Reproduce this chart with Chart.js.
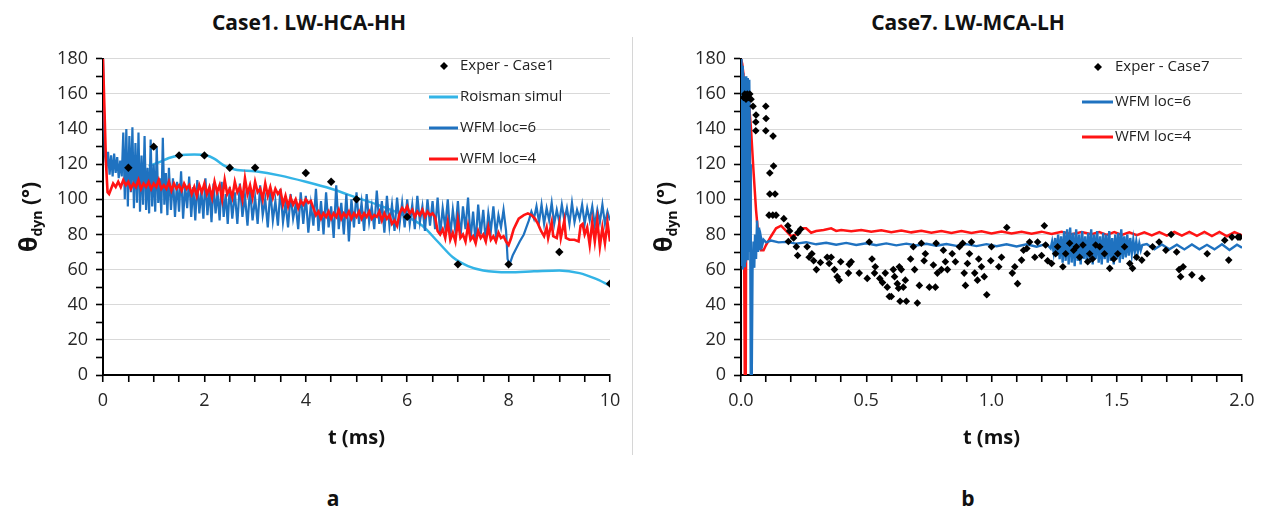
<!DOCTYPE html>
<html>
<head>
<meta charset="utf-8">
<script src="https://cdn.jsdelivr.net/npm/chart.js@4.4.0/dist/chart.umd.min.js"></script>
<style>
  body { margin:0; background:#fff; width:1265px; height:514px; position:relative; overflow:hidden; font-family:"Open Sans", sans-serif; }
  .ttl { position:absolute; top:8px; line-height:28px; font-weight:bold; font-size:21px; color:#111; transform:translateX(-50%); white-space:nowrap; }
  .lbl { position:absolute; top:484px; line-height:28px; font-weight:bold; font-size:21px; color:#111; transform:translateX(-50%); }
  #sep { position:absolute; left:632px; top:37px; width:1px; height:418px; background:#d6d6d6; }
  canvas { position:absolute; top:40px; }
</style>
</head>
<body>
<div class="ttl" style="left:309px">Case1. LW-HCA-HH</div>
<div class="ttl" style="left:968px">Case7. LW-MCA-LH</div>
<div id="sep"></div>
<canvas id="chartA" width="630" height="410" style="left:0px"></canvas>
<canvas id="chartB" width="630" height="410" style="left:635px"></canvas>
<div class="lbl" style="left:333px">a</div>
<div class="lbl" style="left:968px">b</div>
<script>
// ---- panel a : Case1 ----
const exp1 = [[0.5,118],[1,130],[1.5,125],[2,125],[2.5,118],[3,118],[4,115],[4.5,110],[5,100],[6,90],[7,63],[8,63],[9,70],[10,52]];

const roisman1 = [[0.9,119],[1.1,121],[1.3,123.5],[1.5,125],[1.8,125.5],[2.05,125],[2.2,123],[2.4,119],[2.6,117],[3.0,116],[3.5,113.5],[4.0,110],[4.5,106],[5.0,101],[5.5,96],[6.0,90],[6.3,85],[6.6,76],[6.9,67],[7.2,62],[7.5,59.5],[8.0,58.5],[8.5,59],[9.0,59.5],[9.4,58],[9.7,55],[10,51]];

const wfm6_1 = [[0,180],[0.02,150],[0.04,125],[0.07,118],[0.1,127],[0.13,114],[0.16,125],[0.19,113],[0.22,126],[0.25,115],[0.28,124],[0.31,112],[0.34,122],[0.37,113],
  [0.4,138],[0.43,100],[0.46,140],[0.49,96],[0.52,136],[0.55,104],[0.58,141],[0.61,95],[0.64,132],[0.67,98],[0.7,138],[0.73,93],[0.76,125],[0.79,97],[0.82,136],[0.85,94],[0.88,118],[0.91,92],[0.94,134],[0.97,96],[1.0,120],[1.03,93],[1.06,130],[1.09,98],[1.12,112],[1.15,92],[1.18,135],[1.21,97],[1.24,115],[1.27,91],
  [1.3,118],[1.34,94],[1.38,112],[1.42,90],[1.46,110],[1.5,93],[1.54,116],[1.58,89],[1.62,108],[1.66,95],[1.7,113],[1.74,90],[1.78,107],[1.82,88],[1.86,111],[1.9,92],[1.94,105],[1.98,89],[2.02,112],[2.06,91],[2.1,106],[2.14,87],[2.18,109],[2.22,92],[2.26,104],[2.3,88],[2.34,110],[2.38,90],[2.42,103],[2.46,86],
  [2.5,107],[2.55,89],[2.6,104],[2.65,86],[2.7,109],[2.75,90],[2.8,102],[2.85,85],[2.9,106],[2.95,88],[3.0,101],[3.05,86],[3.1,108],[3.15,91],[3.2,100],[3.25,84],[3.3,105],[3.35,88],[3.4,99],[3.45,85],[3.5,106],[3.55,87],[3.6,98],[3.65,84],[3.7,103],[3.75,89],[3.8,97],[3.85,83],[3.9,104],[3.95,86],
  [4.0,102],[4.05,81],[4.1,97],[4.15,85],[4.2,106],[4.25,82],[4.3,99],[4.35,80],[4.4,104],[4.45,84],[4.5,96],[4.55,78],[4.6,108],[4.65,83],[4.7,98],[4.75,80],[4.8,103],[4.85,76],[4.9,100],[4.95,84],
  [5.0,104],[5.05,86],[5.1,98],[5.15,82],[5.2,103],[5.25,87],[5.3,96],[5.35,83],[5.4,105],[5.45,86],[5.5,99],[5.55,81],[5.6,102],[5.65,85],[5.7,97],[5.75,82],[5.8,101],[5.85,86],[5.9,98],[5.95,84],[6.0,100],[6.05,86],[6.1,97],[6.15,83],[6.2,102],[6.25,87],[6.3,96],[6.35,82],[6.4,100],[6.45,85],
  [6.5,99],[6.55,83],[6.6,101],[6.65,80],[6.7,95],[6.75,84],[6.8,100],[6.85,79],[6.9,94],[6.95,82],[7.0,99],[7.05,78],[7.1,96],[7.15,83],[7.2,101],[7.25,77],[7.3,93],[7.35,75],[7.4,97],[7.45,80],[7.5,94],[7.55,76],[7.6,92],[7.65,82],[7.7,96],[7.75,80],[7.8,91],[7.85,84],[7.9,94],
  [7.95,82],[7.98,66],[8.02,63],[8.08,68],[8.15,72],[8.22,76],[8.3,80],[8.35,84],[8.4,88],[8.45,93],
  [8.5,89],[8.55,96],[8.6,87],[8.65,97],[8.7,86],[8.75,95],[8.8,88],[8.85,98],[8.9,86],[8.95,94],[9.0,87],[9.05,97],[9.1,88],[9.15,95],[9.2,86],[9.25,98],[9.3,87],[9.35,94],[9.4,89],[9.45,97],[9.5,86],[9.55,95],[9.6,88],[9.65,96],[9.7,85],[9.75,94],[9.8,87],[9.85,97],[9.9,86],[9.95,93],[10,88]];

const wfm4_1 = [[0,180],[0.03,150],[0.06,120],[0.09,104],[0.12,103],[0.16,106],[0.2,109],[0.25,107],[0.3,110],[0.35,107],[0.4,111],[0.45,108],[0.5,110],[0.55,106],[0.6,109],[0.65,107],[0.7,111],[0.75,106],[0.8,109],[0.85,107],[0.9,110],[0.95,106],[1.0,109],[1.05,107],[1.1,111],[1.15,106],[1.2,108],[1.25,106],[1.3,110],[1.35,105],[1.4,109],[1.45,106],[1.5,108],[1.55,105],[1.6,109],[1.65,106],[1.7,108],[1.75,103],[1.8,107],[1.85,102],[1.9,108],[1.95,104],
  [2.0,109],[2.05,103],[2.1,107],[2.15,101],[2.2,110],[2.25,104],[2.3,108],[2.35,100],[2.4,111],[2.45,103],[2.5,106],[2.55,101],[2.6,110],[2.65,104],[2.7,107],[2.75,100],[2.8,112],[2.85,103],[2.9,108],[2.95,101],[3.0,110],[3.05,104],[3.1,106],[3.15,100],[3.2,109],[3.25,102],[3.3,107],[3.35,101],[3.4,106],[3.45,103],[3.5,105],[3.55,97],[3.6,102],[3.65,96],[3.7,101],[3.75,97],[3.8,100],[3.85,95],[3.9,99],[3.95,97],
  [4.0,100],[4.05,98],[4.1,99],[4.15,95],[4.2,91],[4.25,93],[4.3,89],[4.35,92],[4.4,90],[4.45,93],[4.5,89],[4.55,92],[4.6,90],[4.65,94],[4.7,89],[4.75,92],[4.8,90],[4.85,93],[4.9,89],[4.95,92],[5.0,90],[5.05,93],[5.1,89],[5.15,92],[5.2,90],[5.25,93],[5.3,89],[5.35,91],[5.4,90],[5.45,93],[5.5,88],[5.55,92],[5.6,89],[5.65,91],[5.7,86],[5.75,88],[5.8,85],[5.85,92],[5.9,95],[5.95,93],
  [6.0,96],[6.05,92],[6.1,94],[6.15,90],[6.2,93],[6.25,91],[6.3,94],[6.35,90],[6.4,93],[6.45,91],[6.5,92],[6.55,90],[6.6,82],[6.65,80],[6.7,83],[6.75,78],[6.8,87],[6.85,77],[6.9,81],[6.95,76],[7.0,88],[7.05,78],[7.1,80],[7.15,76],[7.2,85],[7.25,77],[7.3,79],[7.35,75],[7.4,82],[7.45,78],[7.5,80],[7.55,76],[7.6,84],[7.65,77],[7.7,79],[7.75,76],[7.8,81],[7.85,78],[7.9,79],[7.95,76],
  [8.0,74],[8.05,78],[8.1,83],[8.15,86],[8.2,89],[8.3,91],[8.38,92],[8.45,91],[8.52,89],[8.58,86],[8.64,82],[8.7,79],[8.75,84],[8.78,78],[8.85,87],[8.88,79],[8.95,78],[9.0,86],[9.03,78],[9.1,88],[9.13,78],[9.2,77],[9.3,77],[9.38,76],[9.42,85],[9.46,86],[9.5,80],[9.55,84],[9.6,74],[9.65,87],[9.7,76],[9.75,88],[9.8,73],[9.85,84],[9.9,75],[9.95,87],[10,76]];

// ---- panel b : Case7 ----
const exp7 = [[0.01,158],[0.015,160],[0.02,157],[0.025,160],[0.03,158],[0.035,160],[0.04,157],
  [0.048,153],[0.06,148],[0.059,144],[0.059,139],[0.099,153],[0.1,146],[0.099,139],[0.128,136],
  [0.115,115],[0.13,119],[0.115,103],[0.136,103],[0.112,91],[0.127,91],[0.14,91],
  [0.171,89],[0.187,85],[0.194,82],[0.189,76],[0.227,81],[0.238,83],[0.21,78],[0.221,73],[0.226,68],
  [0.264,73],[0.272,67],[0.283,69],[0.29,65],[0.301,60],[0.317,64],[0.344,67],[0.36,67],[0.352,63.5],[0.373,60],[0.384,56],[0.392,54],
  [0.398,64.5],[0.432,63],[0.429,58],[0.44,64.5],[0.472,58],[0.512,75.7],[0.504,55],[0.523,66],[0.536,61.6],[0.533,58],[0.554,55],[0.565,52.6],
  [0.576,58],[0.584,50],[0.592,44.7],[0.6,44.7],[0.608,60],[0.613,56],[0.624,52],[0.629,49.4],[0.632,61.6],[0.64,60],[0.635,42],[0.66,42],
  [0.648,50],[0.656,54],[0.677,66],[0.688,73],[0.693,60],[0.704,41],[0.712,51],[0.72,75],[0.736,69],[0.731,65],[0.752,50],[0.776,50],
  [0.784,58],[0.768,62.6],[0.779,75],[0.8,60],[0.808,71],[0.816,64.5],[0.824,60],[0.843,69],[0.856,64.5],[0.872,73],[0.885,75],[0.896,51],
  [0.891,58],[0.904,63.5],[0.912,69],[0.92,75.7],[0.933,58],[0.944,54],[0.949,66],[0.96,61.6],[0.971,56],[0.981,45.7],[0.997,65],[1.0,73],
  [1.029,61.6],[1.04,67],[1.061,84],[1.083,58],[1.093,61.6],[1.104,52],[1.12,65.4],[1.128,71],[1.141,72],[1.152,75.7],[1.173,67],[1.184,75.7],
  [1.2,68],[1.211,85],[1.216,74],[1.224,65],[1.24,63.5],[1.256,69],[1.264,73],[1.285,61.6],[1.296,69],[1.312,75],[1.328,71],[1.339,73],
  [1.352,67],[1.365,74],[1.384,64.5],[1.392,69],[1.403,66],[1.416,74],[1.432,73],[1.451,69],[1.472,60.7],[1.488,66],[1.504,69],[1.531,73],
  [1.552,63.5],[1.563,60.7],[1.579,67],[1.6,65.4],[1.621,69],[1.643,73],[1.669,75.7],[1.696,71],[1.717,80],[1.739,70],[1.749,60],[1.755,56],
  [1.765,61.6],[1.8,57],[1.84,55],[1.861,69],[1.931,76.7],[1.947,65.4],[1.96,78.5],[1.984,78.5],[1.992,78.5]];

const wfm6_7 = [[0,180],[0.002,62],[0.004,176],[0.007,60],[0.009,172],[0.012,62],[0.015,170],[0.018,64],[0.021,170],[0.024,66],[0.027,169],[0.03,70],[0.033,168],[0.036,120],[0.039,0],[0.043,0],[0.046,60],[0.05,76],[0.053,61],[0.056,80],[0.06,66],[0.064,88],[0.068,70],[0.072,84],[0.076,71],[0.08,78],[0.085,74],[0.09,77],[0.1,75.5],[0.12,76.5],[0.15,75.5],[0.18,75.8],[0.22,74.8],
  [0.26,75.6],[0.3,74.4],[0.34,75.3],[0.38,74.2],[0.42,75.2],[0.46,74],[0.5,75],[0.54,73.9],[0.58,74.9],[0.62,73.8],[0.66,74.8],[0.7,73.7],[0.74,74.7],[0.78,73.6],[0.82,74.6],[0.86,73.5],[0.9,74.5],[0.94,73.4],[0.98,74.5],[1.02,73.3],[1.06,74.4],[1.1,73.2],[1.14,74.4],[1.18,73],[1.22,74.6],
  [1.236,72],[1.242,76],[1.248,70],[1.254,78],[1.26,68],[1.266,80],[1.272,66],[1.278,79],[1.284,64],[1.29,82],[1.296,65],[1.302,83],[1.308,63],[1.314,84],[1.32,64],[1.326,81],[1.332,62],[1.338,83],[1.344,65],[1.35,80],[1.356,63],[1.362,82],[1.368,66],[1.374,79],[1.38,64],[1.386,81],[1.392,65],[1.398,83],[1.404,63],[1.41,80],[1.416,66],[1.422,82],[1.428,64],[1.434,79],[1.44,63],[1.446,81],[1.452,66],[1.458,80],[1.464,64],[1.47,82],[1.476,65],[1.482,78],[1.488,63],[1.494,80],[1.5,66],[1.506,81],[1.512,64],[1.518,83],[1.524,66],[1.53,79],[1.536,67],[1.542,80],[1.548,68],[1.554,78],[1.56,69],[1.566,77],[1.572,70],[1.578,76],[1.584,70],[1.59,75],[1.596,71],[1.602,74],
  [1.62,74.5],[1.65,71.5],[1.68,74.3],[1.71,71.6],[1.74,74.2],[1.77,71.5],[1.8,74.3],[1.83,71.6],[1.86,74.1],[1.89,71.5],[1.92,74.4],[1.95,71.2],[1.98,74.2],[2.0,72.5]];

const wfm4_7 = [[0,180],[0.005,177],[0.01,171],[0.013,60],[0.015,0],[0.019,0],[0.021,110],[0.024,166],[0.03,158],[0.04,140],[0.05,116],[0.06,94],[0.07,78],[0.08,71],[0.09,71],[0.1,74],[0.12,79],[0.14,83.5],[0.16,85],[0.18,82],[0.2,79],[0.22,80],[0.24,83.5],[0.26,83.5],[0.28,81],[0.3,82],[0.33,82.5],[0.36,83.5],[0.38,82],[0.4,82.5],
  [0.44,81.8],[0.48,82.6],[0.52,81.6],[0.56,82.4],[0.6,81.3],[0.64,82.2],[0.68,81.2],[0.72,82.1],[0.76,81],[0.8,82],[0.84,80.9],[0.88,81.9],[0.92,80.8],[0.96,81.8],[1.0,80.6],[1.04,81.7],[1.08,80.5],[1.12,81.6],[1.16,80.4],[1.2,81.6],[1.24,80.3],[1.28,81.5],[1.32,80.2],[1.36,81.4],[1.4,80.1],
  [1.43,81.4],[1.46,79.8],[1.49,81.3],[1.52,79.7],[1.55,81.2],[1.58,79.6],[1.61,81.2],[1.64,79.5],[1.67,81.3],[1.7,79.4],[1.73,81.4],[1.76,79.3],[1.79,81.5],[1.82,79.2],[1.85,81.5],[1.88,79.1],[1.91,81.4],[1.94,79],[1.97,81.3],[2.0,79.5]];

// tick labels
const yLabels = [0, 20, 40, 60, 80, 100, 120, 140, 160, 180];
const xLabelsA = [0, 2, 4, 6, 8, 10];
const xLabelsB = ['0.0', '0.5', '1.0', '1.5', '2.0'];

const cRed = '#ff1414';
const cBlue = '#1f72c0';
const cLight = '#33b4e6';
const FONT = '"Open Sans", sans-serif';

// y axis title with subscript
const yTitle = {
  id: 'yTitle',
  afterDraw(chart) {
    const ctx = chart.ctx;
    const a = chart.chartArea;
    ctx.save();
    ctx.translate(37, (a.top + a.bottom) / 2);
    ctx.rotate(-Math.PI / 2);
    ctx.fillStyle = '#111';
    const f1 = 'bold 25px ' + FONT, f2 = 'bold 14px ' + FONT, f3 = 'bold 21px ' + FONT;
    ctx.font = f1; const w1 = ctx.measureText('θ').width;
    ctx.font = f2; const w2 = ctx.measureText('dyn').width;
    ctx.font = f3; const w3 = ctx.measureText(' (°)').width;
    let x = -(w1 + w2 + w3) / 2;
    ctx.font = f1; ctx.fillText('θ', x, 0); x += w1;
    ctx.font = f2; ctx.fillText('dyn', x, 5); x += w2;
    ctx.font = f3; ctx.fillText(' (°)', x, 0);
    ctx.restore();
  }
};

// legend inside the plot, one row per series
const boxLegend = {
  id: 'boxLegend',
  afterDraw(chart, args, opts) {
    const ctx = chart.ctx;
    ctx.save();
    ctx.font = '15px ' + FONT;
    ctx.textBaseline = 'middle';
    opts.items.forEach((it) => {
      if (it.kind === 'line') {
        ctx.strokeStyle = it.color;
        ctx.lineWidth = 3;
        ctx.beginPath();
        ctx.moveTo(opts.x0, it.y);
        ctx.lineTo(opts.x1, it.y);
        ctx.stroke();
      } else {
        ctx.fillStyle = '#000';
        ctx.beginPath();
        ctx.moveTo(opts.dx, it.y - 4);
        ctx.lineTo(opts.dx + 4, it.y);
        ctx.lineTo(opts.dx, it.y + 4);
        ctx.lineTo(opts.dx - 4, it.y);
        ctx.closePath();
        ctx.fill();
      }
      ctx.fillStyle = '#222';
      ctx.fillText(it.label, opts.x1 + 2, it.y);
    });
    ctx.restore();
  }
};

function makeChart(id, datasets, xOpts, yWidth, padRight, legend) {
  return new Chart(document.getElementById(id), {
    type: 'line',
    data: { datasets },
    options: {
      responsive: false,
      animation: false,
      events: [],
      layout: { padding: { top: 17, right: padRight, left: 0, bottom: 0 } },
      plugins: { legend: { display: false }, tooltip: { enabled: false }, boxLegend: legend },
      scales: {
        x: Object.assign({
          type: 'linear',
          border: { color: '#000', width: 2 },
          grid: { drawOnChartArea: false, tickColor: '#000', tickLength: 7, tickWidth: 1.6, lineWidth: 1.5 },
          title: { display: true, text: 't (ms)', color: '#111', font: { family: FONT, size: 20, weight: 'bold' }, padding: { top: 0, bottom: 0 } },
          afterFit: (s) => { s.height = 75; }
        }, xOpts),
        y: {
          min: 0, max: 180,
          border: { color: '#000', width: 2 },
          grid: {
            color: (c) => (c.tick && c.tick.value % 20 === 0 ? '#d9d9d9' : 'rgba(0,0,0,0)'),
            tickColor: '#000', tickLength: 7, tickWidth: 1.6, lineWidth: 1
          },
          ticks: {
            stepSize: 10, autoSkip: false, padding: 8, color: '#262626',
            font: { family: FONT, size: 18 },
            callback: (v) => (yLabels.includes(v) ? String(v) : '')
          },
          afterFit: (s) => { s.width = yWidth; }
        }
      }
    },
    plugins: [yTitle, boxLegend]
  });
}

const lineDs = (data, color, width, order, extra) => Object.assign({
  type: 'line', data, borderColor: color, backgroundColor: color, borderWidth: width,
  pointRadius: 0, tension: 0, order
}, extra || {});

const pointDs = (data, r) => ({
  type: 'scatter', data, showLine: false, pointStyle: 'rectRot', pointRadius: r,
  backgroundColor: '#000', borderColor: '#000', borderWidth: 0, order: 0
});

makeChart('chartA', [
  pointDs(exp1, 4.2),
  lineDs(roisman1, cLight, 2.5, 3, { cubicInterpolationMode: 'monotone' }),
  lineDs(wfm6_1, cBlue, 2.2, 2),
  lineDs(wfm4_1, cRed, 2.6, 1)
], {
  min: 0, max: 10,
  ticks: {
    stepSize: 0.5, autoSkip: false, maxRotation: 0, padding: 8, color: '#262626',
    font: { family: FONT, size: 18 },
    callback: (v) => (xLabelsA.includes(v) ? String(v) : '')
  }
}, 103, 20, {
  x0: 429, x1: 458, dx: 444,
  items: [
    { label: 'Exper - Case1', kind: 'point', y: 26 },
    { label: 'Roisman simul', kind: 'line', color: cLight, y: 57 },
    { label: 'WFM loc=6', kind: 'line', color: cBlue, y: 88 },
    { label: 'WFM loc=4', kind: 'line', color: cRed, y: 119 }
  ]
});

makeChart('chartB', [
  pointDs(exp7, 3.8),
  lineDs(wfm6_7, cBlue, 2.4, 1),
  lineDs(wfm4_7, cRed, 2.5, 2)
], {
  min: 0, max: 2,
  ticks: {
    stepSize: 0.1, autoSkip: false, maxRotation: 0, padding: 8, color: '#262626',
    font: { family: FONT, size: 18 },
    callback: (v) => (xLabelsB.includes(v.toFixed(1)) ? v.toFixed(1) : '')
  }
}, 106, 23, {
  x0: 447, x1: 478, dx: 463,
  items: [
    { label: 'Exper - Case7', kind: 'point', y: 27 },
    { label: 'WFM loc=6', kind: 'line', color: cBlue, y: 62 },
    { label: 'WFM loc=4', kind: 'line', color: cRed, y: 97 }
  ]
});
</script>
</body>
</html>
